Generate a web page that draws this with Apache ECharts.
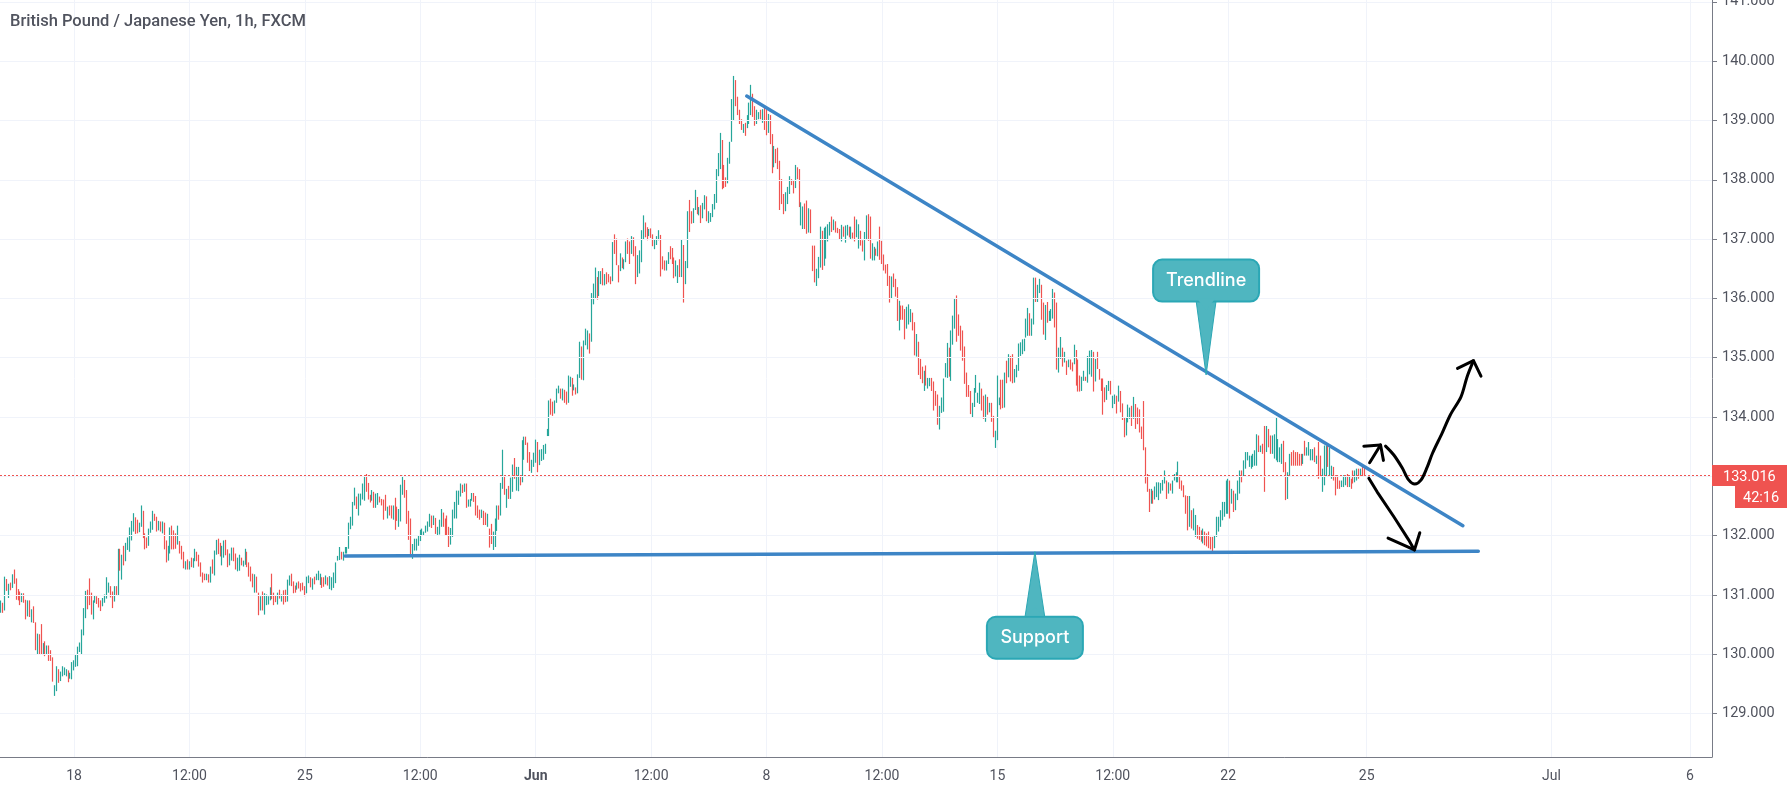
<!DOCTYPE html>
<html>
<head>
<meta charset="utf-8">
<title>GBP/JPY 1h</title>
<script src="https://cdn.jsdelivr.net/npm/echarts@6/dist/echarts.min.js"></script>
<style>
  html, body { margin: 0; padding: 0; background: #fff; }
  #chart { width: 1787px; height: 793px; }
</style>
</head>
<body>
<div id="chart"></div>
<script>
// hourly bars (weekends are skipped, one slot per trading hour)
const barHigh = [
130.91,130.87,131.31,131.27,131.19,131.21,131.35,131.43,131.28,131.10,
131.06,131.03,131.03,130.92,130.91,130.91,130.76,130.81,130.54,130.35,
130.34,130.51,130.19,130.22,130.15,130.15,130.07,129.95,129.48,129.80,
129.75,129.71,129.80,129.78,129.75,129.73,129.69,129.87,129.90,130.00,
130.13,130.20,130.42,130.78,131.07,131.09,131.28,131.04,130.91,130.99,
130.98,130.95,130.91,130.95,131.01,131.30,131.21,131.15,131.06,131.15,
131.15,131.78,131.78,131.68,131.83,131.88,131.97,132.14,132.25,132.38,
132.31,132.27,132.22,132.51,132.42,132.04,131.97,132.12,132.24,132.42,
132.37,132.32,132.25,132.24,132.24,132.22,131.92,131.83,132.14,132.17,
132.09,132.04,132.17,131.91,131.83,131.73,131.57,131.60,131.57,131.63,
131.62,131.78,131.73,131.68,131.55,131.38,131.36,131.36,131.35,131.48,
131.60,131.75,131.93,131.95,131.88,131.83,131.92,131.93,131.77,131.70,
131.80,131.80,131.70,131.63,131.68,131.63,131.58,131.78,131.73,131.55,
131.48,131.36,131.35,131.31,131.04,130.98,131.06,131.03,131.01,130.98,
131.13,131.36,131.04,130.99,131.04,131.09,131.01,131.08,131.09,131.26,
131.33,131.36,131.23,131.16,131.21,131.23,131.20,131.21,131.15,131.31,
131.33,131.30,131.28,131.31,131.36,131.41,131.36,131.30,131.30,131.33,
131.30,131.32,131.30,131.38,131.55,131.66,131.81,131.73,131.73,131.81,
131.81,132.22,132.32,132.57,132.81,132.66,132.71,132.71,132.88,133.01,
133.04,132.89,132.69,132.77,132.74,132.71,132.72,132.66,132.62,132.61,
132.69,132.49,132.51,132.51,132.51,132.64,132.49,132.45,132.86,133.01,
132.94,132.77,132.42,132.29,131.86,131.95,131.95,132.00,132.10,132.12,
132.07,132.17,132.24,132.37,132.34,132.34,132.30,132.15,132.27,132.45,
132.39,132.29,132.34,132.15,132.13,132.44,132.57,132.76,132.76,132.88,
132.86,132.88,132.88,132.61,132.62,132.72,132.72,132.67,132.51,132.44,
132.44,132.42,132.39,132.37,132.12,132.20,132.07,132.29,132.51,132.51,
132.89,133.45,132.99,132.79,132.84,132.98,133.20,133.31,133.16,133.16,
133.01,133.61,133.67,133.67,133.57,133.41,133.28,133.40,133.62,133.58,
133.45,133.46,133.53,133.55,133.80,134.28,134.31,134.26,134.28,134.48,
134.53,134.48,134.48,134.46,134.43,134.70,134.68,134.66,134.55,134.50,
134.72,135.27,135.19,135.29,135.49,135.46,135.41,136.09,136.25,136.52,
136.36,136.46,136.46,136.51,136.41,136.44,136.41,136.37,136.95,137.08,
137.01,136.56,136.76,136.69,136.66,136.96,137.01,136.96,137.05,137.03,
136.88,136.73,136.81,137.15,137.40,137.28,137.20,137.17,137.18,137.08,
137.00,137.05,137.15,137.07,136.71,136.64,136.64,136.78,136.88,136.85,
136.69,136.64,136.56,136.66,137.00,136.90,136.63,137.47,137.66,137.47,
137.52,137.83,137.71,137.54,137.57,137.61,137.74,137.72,137.47,137.44,
137.59,137.76,138.18,138.45,138.79,138.67,138.25,138.04,138.37,138.64,
139.36,139.75,139.68,139.40,139.18,139.02,138.94,138.96,139.09,139.30,
139.60,139.45,139.24,139.18,139.14,139.18,139.19,139.21,139.19,139.11,
139.09,138.77,138.57,138.52,138.54,138.32,138.01,137.76,137.79,137.88,
138.06,138.01,137.98,138.25,138.21,138.18,137.62,137.55,137.60,137.65,
137.52,137.50,136.89,136.89,136.50,136.70,137.21,137.14,137.19,137.21,
137.25,137.29,137.38,137.33,137.30,137.19,137.17,137.24,137.21,137.23,
137.24,137.21,137.21,137.11,137.38,137.33,137.25,137.14,136.98,137.12,
137.40,137.42,137.38,136.93,136.87,136.84,136.96,137.21,136.97,136.74,
136.57,136.58,136.38,136.37,136.42,136.33,136.19,135.96,135.88,135.88,
135.82,135.86,135.90,135.82,135.76,135.60,135.40,135.27,134.98,134.85,
134.78,134.87,134.66,134.66,134.66,134.60,134.44,134.38,134.19,134.33,
134.65,134.91,135.25,135.17,135.46,135.71,135.99,136.05,135.73,135.54,
135.46,135.19,134.75,134.54,134.44,134.24,134.49,134.71,134.41,134.58,
134.48,134.36,134.38,134.34,134.24,134.24,134.02,133.77,134.70,134.33,
134.63,134.63,134.75,134.95,135.06,135.03,135.06,134.81,134.88,135.24,
135.26,135.31,135.32,135.66,135.84,135.75,135.66,136.35,136.35,136.23,
136.33,136.23,135.93,135.89,135.94,135.79,135.82,136.16,136.10,135.93,
135.17,135.35,135.17,135.10,134.95,134.97,134.97,134.92,135.22,135.13,
134.97,134.70,134.68,134.78,134.68,135.03,135.12,135.13,135.10,134.98,
135.10,134.81,134.65,134.65,134.50,134.54,134.61,134.61,134.36,134.38,
134.36,134.53,134.44,134.23,133.99,133.99,134.21,134.16,134.19,134.34,
134.22,134.16,134.13,133.84,134.27,133.49,133.04,132.79,132.79,132.76,
132.83,132.90,132.90,132.89,132.94,133.10,132.93,132.90,132.88,132.93,
133.04,133.07,133.25,133.02,132.93,132.85,132.68,132.67,132.67,132.43,
132.46,132.35,132.18,132.15,132.09,132.12,132.07,132.04,132.07,131.98,
131.98,132.01,132.32,132.32,132.43,132.57,132.57,132.93,132.96,132.93,
132.79,132.76,132.71,132.93,133.10,133.10,133.27,133.41,133.41,133.35,
133.35,133.38,133.44,133.71,133.69,133.52,133.55,133.85,133.85,133.80,
133.69,133.69,133.71,134.00,133.63,133.49,133.55,133.60,133.24,133.07,
133.38,133.41,133.44,133.41,133.41,133.38,133.38,133.38,133.60,133.49,
133.58,133.46,133.46,133.49,133.35,133.58,133.35,133.13,133.52,133.52,
133.52,133.49,133.18,133.16,133.02,133.02,132.93,132.93,133.02,133.02,
133.04,132.99,132.96,133.10,133.10,133.13,133.13,133.13,133.16,133.18
];
const barLow = [
130.70,130.70,130.74,131.07,130.95,131.08,131.12,131.19,130.92,130.91,
130.83,130.88,130.87,130.59,130.64,130.63,130.54,130.53,130.07,129.99,
129.99,130.00,129.99,129.97,129.99,129.89,129.89,129.54,129.30,129.38,
129.52,129.55,129.63,129.65,129.63,129.53,129.59,129.58,129.73,129.79,
129.80,130.04,130.00,130.32,130.61,130.76,130.83,130.67,130.59,130.87,
130.85,130.79,130.73,130.81,130.87,130.94,131.04,130.96,130.78,130.89,
130.99,130.99,131.41,131.26,131.50,131.57,131.76,131.73,131.92,132.07,
132.03,132.04,132.06,132.15,131.96,131.77,131.79,131.83,132.05,132.10,
132.25,132.07,132.09,132.07,132.04,131.77,131.55,131.58,131.70,131.77,
131.77,131.78,131.85,131.70,131.60,131.45,131.43,131.43,131.43,131.47,
131.46,131.57,131.57,131.48,131.31,131.21,131.25,131.25,131.21,131.21,
131.36,131.33,131.68,131.69,131.65,131.50,131.63,131.67,131.47,131.50,
131.58,131.57,131.43,131.40,131.41,131.50,131.48,131.51,131.47,131.31,
131.23,131.13,131.04,131.04,130.66,130.74,130.74,130.67,130.83,130.84,
130.91,130.93,130.83,130.88,130.84,130.94,130.89,130.84,130.88,130.89,
131.16,131.15,131.03,131.04,131.09,131.11,131.06,131.08,130.98,131.03,
131.20,131.13,131.09,131.18,131.25,131.25,131.17,131.12,131.14,131.18,
131.16,131.10,131.08,131.12,131.20,131.58,131.59,131.60,131.58,131.70,
131.70,131.78,132.11,132.17,132.51,132.45,132.34,132.51,132.61,132.59,
132.74,132.61,132.56,132.59,132.47,132.47,132.52,132.56,132.51,132.27,
132.42,132.29,132.34,132.29,132.27,132.10,132.25,132.15,132.24,132.69,
132.64,132.20,131.93,131.65,131.61,131.75,131.75,131.83,131.91,132.00,
132.00,132.05,132.07,132.15,132.13,132.18,132.03,132.00,132.02,132.15,
132.15,132.00,132.00,131.81,131.85,131.98,132.29,132.29,132.52,132.66,
132.72,132.74,132.47,132.49,132.49,132.59,132.57,132.34,132.30,132.27,
132.30,132.18,132.18,132.15,131.80,131.86,131.76,131.81,132.08,132.27,
132.34,132.79,132.69,132.47,132.62,132.62,132.74,132.96,132.76,132.75,
132.85,132.90,133.28,133.53,133.23,133.09,133.06,133.16,133.23,133.07,
133.19,133.26,133.28,133.38,133.68,133.68,134.04,134.02,134.06,134.24,
134.40,134.31,134.28,134.24,134.21,134.24,134.51,134.36,134.45,134.38,
134.40,134.66,134.63,134.62,135.21,135.14,135.07,135.27,135.90,136.00,
135.98,136.04,136.24,136.22,136.22,136.24,136.27,136.24,136.29,136.75,
136.56,136.27,136.46,136.51,136.49,136.61,136.75,136.58,136.75,136.71,
136.24,136.36,136.42,136.61,137.00,137.03,136.98,137.05,137.02,136.88,
136.83,136.90,136.98,136.37,136.49,136.47,136.47,136.58,136.66,136.58,
136.34,136.37,136.26,136.36,136.36,135.93,136.24,136.51,137.12,137.26,
137.27,137.49,137.42,137.40,137.27,137.35,137.50,137.30,137.27,137.29,
137.37,137.50,137.61,138.06,138.18,137.84,137.86,137.88,137.94,138.27,
138.64,138.99,139.24,139.09,138.94,138.84,138.79,138.74,138.87,138.94,
139.09,139.06,138.91,138.94,139.02,139.02,138.96,138.84,138.75,138.79,
138.60,138.11,138.21,138.28,138.18,137.49,137.59,137.42,137.47,137.59,
137.76,137.91,137.77,137.86,138.01,137.54,137.23,137.17,137.17,137.09,
137.11,137.10,136.46,136.27,136.21,136.34,136.52,136.48,136.55,136.67,
136.96,137.06,137.12,137.15,137.11,137.10,137.00,136.96,137.04,136.94,
137.06,137.03,137.00,137.01,136.96,137.03,136.84,136.89,136.79,136.64,
136.99,136.97,136.67,136.64,136.64,136.72,136.71,136.65,136.58,136.47,
136.42,136.21,135.93,135.99,136.19,136.03,135.62,135.46,135.64,135.64,
135.31,135.49,135.56,135.60,135.46,135.04,135.02,134.71,134.64,134.57,
134.44,134.53,134.48,134.52,134.44,134.11,134.19,133.87,133.79,134.07,
134.09,134.67,134.66,134.68,134.61,135.22,135.49,135.27,135.37,135.12,
134.95,134.56,134.34,134.34,134.05,134.00,134.17,134.41,134.24,134.22,
134.11,133.97,133.92,134.04,134.08,133.92,133.66,133.48,133.61,134.20,
134.13,134.15,134.16,134.57,134.67,134.60,134.57,134.58,134.67,134.78,
135.03,135.06,135.11,135.34,135.37,135.37,135.37,135.56,135.94,135.94,
136.09,135.64,135.39,135.30,135.59,135.62,135.62,135.66,135.51,134.80,
134.75,134.98,134.85,134.92,134.71,134.84,134.80,134.77,134.89,134.53,
134.43,134.43,134.44,134.61,134.61,134.58,134.72,134.68,134.43,134.60,
134.81,134.63,134.44,134.04,134.25,134.29,134.44,134.38,134.15,134.22,
134.06,134.26,134.08,133.95,133.66,133.69,133.91,133.97,133.85,133.97,
133.80,133.88,133.74,133.63,133.44,132.88,132.74,132.40,132.54,132.54,
132.61,132.65,132.60,132.71,132.76,132.88,132.62,132.71,132.76,132.71,
132.93,132.90,132.90,132.79,132.76,132.65,132.37,132.09,132.15,132.12,
132.09,131.98,131.95,131.93,131.90,131.87,131.84,131.82,131.79,131.77,
131.73,131.79,131.98,132.07,132.15,132.26,132.32,132.37,132.37,132.29,
132.54,132.40,132.43,132.60,132.71,132.90,132.99,133.13,133.27,133.16,
133.13,133.16,133.18,133.18,133.41,133.41,133.38,132.74,133.41,133.49,
133.38,133.38,133.30,133.27,133.24,133.24,133.21,133.07,132.60,132.62,
132.99,133.18,133.18,133.18,133.18,133.18,133.18,133.21,133.35,133.35,
133.35,133.27,133.27,133.24,133.21,132.96,132.99,132.74,132.85,132.99,
133.16,133.02,132.96,132.93,132.68,132.79,132.79,132.82,132.82,132.85,
132.82,132.82,132.79,132.88,132.90,132.93,132.96,132.99,132.99,132.99
];
const barUp = [
1,0,1,0,1,0,1,0,0,0, 0,1,0,0,1,0,1,0,0,1, 0,0,1,0,1,0,0,0,1,1, 0,1,1,1,1,0,1,1,1,1,
1,1,1,1,1,0,0,0,1,1, 0,0,0,1,1,1,1,0,0,1, 0,1,0,1,0,1,1,1,1,1, 0,0,1,1,0,0,0,1,1,1,
0,0,1,0,1,0,0,1,1,0, 0,0,1,0,0,0,1,0,1,0, 1,1,0,0,0,0,0,1,0,1, 0,1,1,0,0,1,1,0,0,1,
1,0,0,1,1,0,1,1,0,0, 0,0,1,0,0,1,0,1,1,1, 1,0,0,0,1,0,1,0,0,1, 1,0,0,0,1,0,0,0,0,1,
1,0,1,0,1,1,1,0,0,1, 0,1,1,1,1,1,1,0,1,1, 1,1,1,1,1,0,1,1,1,1, 0,0,0,1,0,1,1,0,0,0,
0,1,0,0,1,0,0,1,1,1, 0,0,0,0,1,1,1,1,1,1, 1,1,1,1,0,1,0,1,1,1, 0,0,0,0,1,1,1,1,1,1,
0,1,0,1,1,1,0,0,0,0, 1,0,0,1,0,0,1,1,1,0, 1,1,0,1,0,1,1,0,1,1, 0,1,1,0,0,0,1,1,1,0,
1,1,1,1,1,1,0,0,1,1, 1,0,1,0,0,1,1,0,1,0, 1,1,0,1,1,1,0,1,1,1, 0,1,1,0,1,0,0,0,1,0,
0,0,1,0,1,1,0,0,1,0, 0,1,1,1,1,0,0,1,0,0, 1,1,1,0,0,0,1,1,0,0, 0,1,1,0,1,0,1,1,0,0,
1,1,0,1,0,1,1,0,1,1, 1,1,1,1,1,0,0,0,1,1, 1,1,0,0,0,0,1,0,1,1, 1,0,0,1,1,0,1,0,0,1,
0,0,1,0,0,0,0,0,1,1, 1,0,0,1,0,0,1,1,0,0, 1,0,0,0,1,1,1,0,1,1, 1,1,0,1,0,0,0,1,0,1,
1,0,1,0,0,1,1,0,0,1, 1,0,0,1,1,0,1,0,0,0, 0,0,0,1,0,0,0,1,0,0, 0,1,1,1,0,0,1,0,0,0,
1,0,1,1,0,0,0,0,1,1, 1,1,1,0,1,1,1,0,0,0, 0,0,0,0,0,1,1,1,1,1, 0,0,1,0,1,0,0,1,1,1,
0,0,1,0,1,0,0,1,1,1, 1,1,1,1,1,0,1,1,0,1, 1,0,0,1,0,1,1,1,0,0, 1,1,0,1,0,1,0,0,1,0,
0,0,1,1,0,1,1,1,0,1, 0,0,0,0,0,1,1,0,1,1, 0,1,0,0,0,1,1,1,0,1,
0,0,0,0,0,0,0,0,1,0, 1,1,1,1,1,1,0,1,0,1, 1,1,1,0,0,0,0,0,1,0, 1,1,0,0,0,1,0,0,0,0,
0,1,1,1,1,1,1,1,1,0, 1,0,1,1,1,0,1,1,1,1, 1,1,1,1,0,1,0,0,1,0, 0,1,1,1,1,1,1,0,0,1,
1,0,0,0,0,0,0,1,0,1, 1,1,1,0,1,0,0,1,1,1, 0,1,1,0,0,0,0,1,1,1, 0,1,0,0,1,1,0,1,0,0,
0,0,0,0,0,1,1,0,1,1, 1,1,1,1,1,1,1,1,1,0
];

// scale of the picture: 890 one-hour slots across, ticks only where the picture has them
const slotCount = 890;
const tickSlots = [38, 98, 158, 218, 278, 338, 398, 458, 518, 578, 638, 710, 806, 878];
const tickLabels = ['18', '12:00', '25', '12:00', 'Jun', '12:00', '8', '12:00', '15', '12:00', '22', '25', 'Jul', '6'];
const priceMin = 128.27;
const priceMax = 141.03;
const priceTicks = [129, 130, 131, 132, 133, 134, 135, 136, 137, 138, 139, 140, 141];
const priceLabels = [129, 130, 131, 132, 134, 135, 136, 137, 138, 139, 140, 141];
const lastPrice = 133.016;

// drawings, [slot, price]
const trendLine = [[388.2, 139.41], [760.5, 132.17]];
const supportLine = [[179.4, 131.66], [768.5, 131.74]];
const shortArrow = [[712.0, 133.23], [717.7, 133.53]];
const shortArrowHead = [[709.0, 133.51], [717.7, 133.53], [719.2, 133.27]];
const longArrow = [[720.3, 133.51], [724.6, 133.36], [729.0, 133.14], [732.3, 132.94], [735.5, 132.87], [738.8, 132.94], [742.0, 133.16], [744.7, 133.39], [749.7, 133.73], [754.0, 134.04], [759.5, 134.34], [762.7, 134.68], [766.0, 134.95]];
const longArrowHead = [[757.7, 134.82], [766.0, 134.95], [769.9, 134.69]];
const downArrow = [[711.6, 132.97], [715.9, 132.74], [724.6, 132.32], [732.3, 131.93], [735.3, 131.76]];
const downArrowHead = [[721.6, 131.96], [735.3, 131.76], [738.1, 132.05]];

// callouts: [tip slot, tip price, box centre price]
const calloutNames = ['Trendline', 'Support'];
const calloutPoints = [[627, 134.71, 136.30], [538, 131.73, 130.28]];

const upColor = '#26a69a';
const downColor = '#ef5350';
const gridColor = '#f0f3fa';
const axisColor = '#787b86';
const textColor = '#50535e';
const labelFont = 'Roboto';

const categories = Array.from({length: slotCount}, (_, i) => {
    const t = tickSlots.indexOf(i);
    return t >= 0 ? tickLabels[t] : '';
});
const isTick = (i) => tickSlots.indexOf(i) >= 0;
const candleData = barHigh.map((h, i) => barUp[i]
    ? [barLow[i], h, barLow[i], h]
    : [h, barLow[i], barLow[i], h]);

function drawing(points, color, width, smooth) {
    return {
        type: 'line',
        xAxisIndex: 1,
        data: points,
        symbol: 'none',
        silent: true,
        smooth: smooth ? 0.3 : false,
        lineStyle: {color: color, width: width, cap: 'round', join: 'round'},
        z: 5
    };
}

function renderCallout(params, api) {
    const tip = api.coord([api.value(0), api.value(1)]);
    const box = api.coord([api.value(0), api.value(2)]);
    const name = calloutNames[params.dataIndex];
    const w = name === 'Support' ? 96 : 106;
    const h = 42;
    const edge = tip[1] > box[1] ? box[1] + h / 2 - 1 : box[1] - h / 2 + 1;
    const boxStyle = {fill: '#4fb6c0', stroke: '#2ba7b5', lineWidth: 2};
    return {
        type: 'group',
        children: [
            {type: 'polygon', shape: {points: [[tip[0] - 10, edge], [tip[0] + 10, edge], tip]},
                style: {fill: '#4fb6c0', stroke: '#2ba7b5', lineWidth: 1}},
            {type: 'rect', shape: {x: box[0] - w / 2, y: box[1] - h / 2, width: w, height: h, r: 9}, style: boxStyle},
            {type: 'polygon', shape: {points: [[tip[0] - 9, edge - 2], [tip[0] + 9, edge - 2], [tip[0], edge + (tip[1] > box[1] ? 10 : -10)]]},
                style: {fill: '#4fb6c0'}},
            {type: 'text', style: {x: box[0], y: box[1], text: name, fill: '#fff', align: 'center', verticalAlign: 'middle',
                font: '500 18px Inter'}}
        ]
    };
}

const chart = echarts.init(document.getElementById('chart'));
chart.setOption({
    animation: false,
    backgroundColor: '#fff',
    title: {
        text: 'British Pound / Japanese Yen, 1h, FXCM',
        left: 5,
        top: 8,
        textStyle: {color: textColor, fontFamily: labelFont, fontSize: 16.5, fontWeight: 500}
    },
    // the 141.000 label is cut by the top edge in the picture, so the grid must not shrink for it
    grid: {left: 0, right: 75, top: 0, bottom: 36, outerBoundsMode: 'none'},
    xAxis: [
        {
            type: 'category',
            data: categories,
            axisLine: {onZero: false, lineStyle: {color: axisColor, width: 1}},
            axisTick: {interval: isTick, alignWithLabel: true, length: 5, lineStyle: {color: axisColor}},
            splitLine: {show: true, interval: isTick, alignWithLabel: true, lineStyle: {color: gridColor, width: 1}},
            axisLabel: {
                interval: isTick,
                margin: 12,
                color: textColor,
                fontFamily: labelFont,
                fontSize: 14,
                formatter: (v) => v === 'Jun' ? '{b|Jun}' : v,
                rich: {b: {fontWeight: 'bold', color: textColor, fontFamily: labelFont, fontSize: 14}}
            }
        },
        {type: 'value', show: false, min: 0, max: slotCount, splitLine: {show: false}}
    ],
    yAxis: {
        type: 'value',
        position: 'right',
        min: priceMin,
        max: priceMax,
        scale: true,
        axisLine: {show: true, onZero: false, lineStyle: {color: axisColor, width: 1}},
        axisTick: {show: true, length: 5, customValues: priceTicks, lineStyle: {color: axisColor}},
        splitLine: {show: false},
        axisLabel: {
            customValues: priceLabels,
            margin: 10,
            padding: [4, 0, 0, 0],
            color: textColor,
            fontFamily: labelFont,
            fontSize: 14.5,
            formatter: (v) => v.toFixed(3)
        }
    },
    series: [
        {
            // horizontal grid lines
            type: 'line',
            xAxisIndex: 1,
            data: [],
            silent: true,
            z: 1,
            markLine: {
                silent: true,
                symbol: 'none',
                label: {show: false},
                lineStyle: {color: gridColor, width: 1, type: 'solid'},
                data: priceTicks.map((p) => ({yAxis: p}))
            }
        },
        {
            type: 'candlestick',
            data: candleData,
            large: false,
            progressive: 0,
            barWidth: 0.5,
            silent: true,
            z: 3,
            itemStyle: {color: upColor, color0: downColor, borderColor: upColor, borderColor0: downColor, borderWidth: 1.2},
            markLine: {
                silent: true,
                symbol: 'none',
                label: {show: false},
                lineStyle: {color: downColor, width: 1, type: [2, 2]},
                data: [{yAxis: lastPrice}]
            }
        },
        drawing(trendLine, '#3d85c6', 3.5),
        drawing(supportLine, '#3d85c6', 3.5),
        drawing(shortArrow, '#000', 3),
        drawing(shortArrowHead, '#000', 3),
        drawing(longArrow, '#000', 3, true),
        drawing(longArrowHead, '#000', 3),
        drawing(downArrow, '#000', 3),
        drawing(downArrowHead, '#000', 3),
        {
            type: 'custom',
            xAxisIndex: 1,
            data: calloutPoints,
            renderItem: renderCallout,
            clip: false,
            silent: true,
            z: 6
        }
    ],
    graphic: [
        {type: 'rect', x: 1712, y: 465, shape: {width: 75, height: 21}, style: {fill: downColor}, z: 100},
        {type: 'text', x: 1723, y: 477, style: {text: lastPrice.toFixed(3), fill: '#fff', verticalAlign: 'middle', font: '14.5px Roboto'}, z: 101},
        {type: 'rect', x: 1735, y: 486, shape: {width: 52, height: 22}, style: {fill: downColor}, z: 100},
        {type: 'text', x: 1743, y: 498, style: {text: '42:16', fill: '#fff', verticalAlign: 'middle', font: '14.5px Roboto'}, z: 101}
    ]
});
</script>
</body>
</html>
